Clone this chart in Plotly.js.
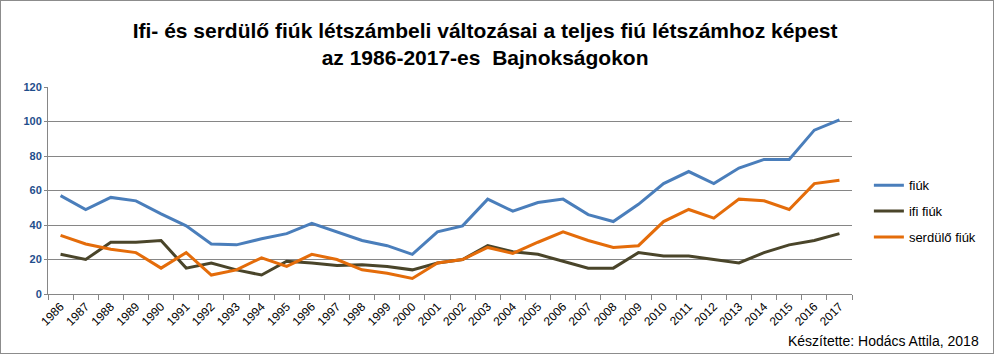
<!DOCTYPE html>
<html><head><meta charset="utf-8">
<script src="https://cdn.plot.ly/plotly-3.0.1.min.js"></script>
<style>
html,body{margin:0;padding:0;background:#fff;}
#chart{width:992px;height:352px;border:1px solid #8c8c8c;}
</style></head>
<body><div id="chart"></div>
<script>
const years = ["1986","1987","1988","1989","1990","1991","1992","1993","1994","1995","1996","1997","1998","1999","2000","2001","2002","2003","2004","2005","2006","2007","2008","2009","2010","2011","2012","2013","2014","2015","2016","2017"];
const fiuk = [57,49,56,54,46.5,39.5,29,28.5,32,35,41,36,31,28,23,36,39.5,55,48,53,55,46,42,52,64,71,64,73,78,78,95,101];
const ifiFiuk = [23,20,30,30,31,15,18,14,11,19,18,16.5,17,16,14,18,20,28,24.5,23,19,15,15,24,22,22,20,18,24,28.5,31,35];
const serduloFiuk = [34,29,26,24,15,24,11,14,21,16,23,20,14,12,9,18,20,27,23.5,30,36,31,27,28,42,49,44,55,54,49,64,66];
const seriesNames = ["fiúk","ifi fiúk","serdülő fiúk"];
const colors = ["#4a7ebb","#4a452a","#e46c0a"];
const FONT = "Liberation Sans Narrow, Arial Narrow, sans-serif";

const data = [fiuk, ifiFiuk, serduloFiuk].map((vals,i)=>({
  x: years, y: vals, type:"scatter", mode:"lines", name: seriesNames[i],
  legendgroup: "g"+i,
  line:{color:colors[i], width:3}
}));

const layout = {
  width:992, height:352,
  margin:{l:47, r:132, t:86, b:59},
  paper_bgcolor:"#fff", plot_bgcolor:"#fff",
  font:{family:FONT, color:"#000"},
  title:{text:"<b>Ifi- és serdülő fiúk létszámbeli változásai a teljes fiú létszámhoz képest<br>az 1986-2017-es  Bajnokságokon</b>",
    font:{family:FONT, size:21, color:"#000"}, x:0.488, xanchor:"center", y:0.895, yanchor:"top"},
  xaxis:{type:"category", range:[-0.5, years.length-0.5], tickson:"boundaries", ticks:"outside", ticklen:5, tickcolor:"#868686",
    showline:true, linecolor:"#868686", linewidth:1, showgrid:false, tickangle:-45,
    tickfont:{family:FONT, size:12, color:"#000"}, zeroline:false},
  yaxis:{range:[0,120], dtick:20, ticks:"outside", ticklen:3, tickcolor:"#868686",
    showline:true, linecolor:"#868686", gridcolor:"#868686", gridwidth:1, zeroline:false,
    tickfont:{family:"Liberation Sans, Arial, sans-serif", size:11, color:"#1f4e8c", weight:"bold"}},
  showlegend:true,
  legend:{x:1.021, y:0.40, xanchor:"left", yanchor:"middle", traceorder:"grouped", tracegroupgap:6,
    font:{family:FONT, size:13, color:"#000"}, bgcolor:"rgba(0,0,0,0)"},
  annotations:[{text:"Készítette: Hodács Attila, 2018", xref:"paper", yref:"paper",
    x:1.16, y:-0.225, xanchor:"right", yanchor:"middle", showarrow:false,
    font:{family:FONT, size:14, color:"#000"}}]
};
Plotly.newPlot("chart", data, layout, {displayModeBar:false, staticPlot:true});
</script></body></html>
